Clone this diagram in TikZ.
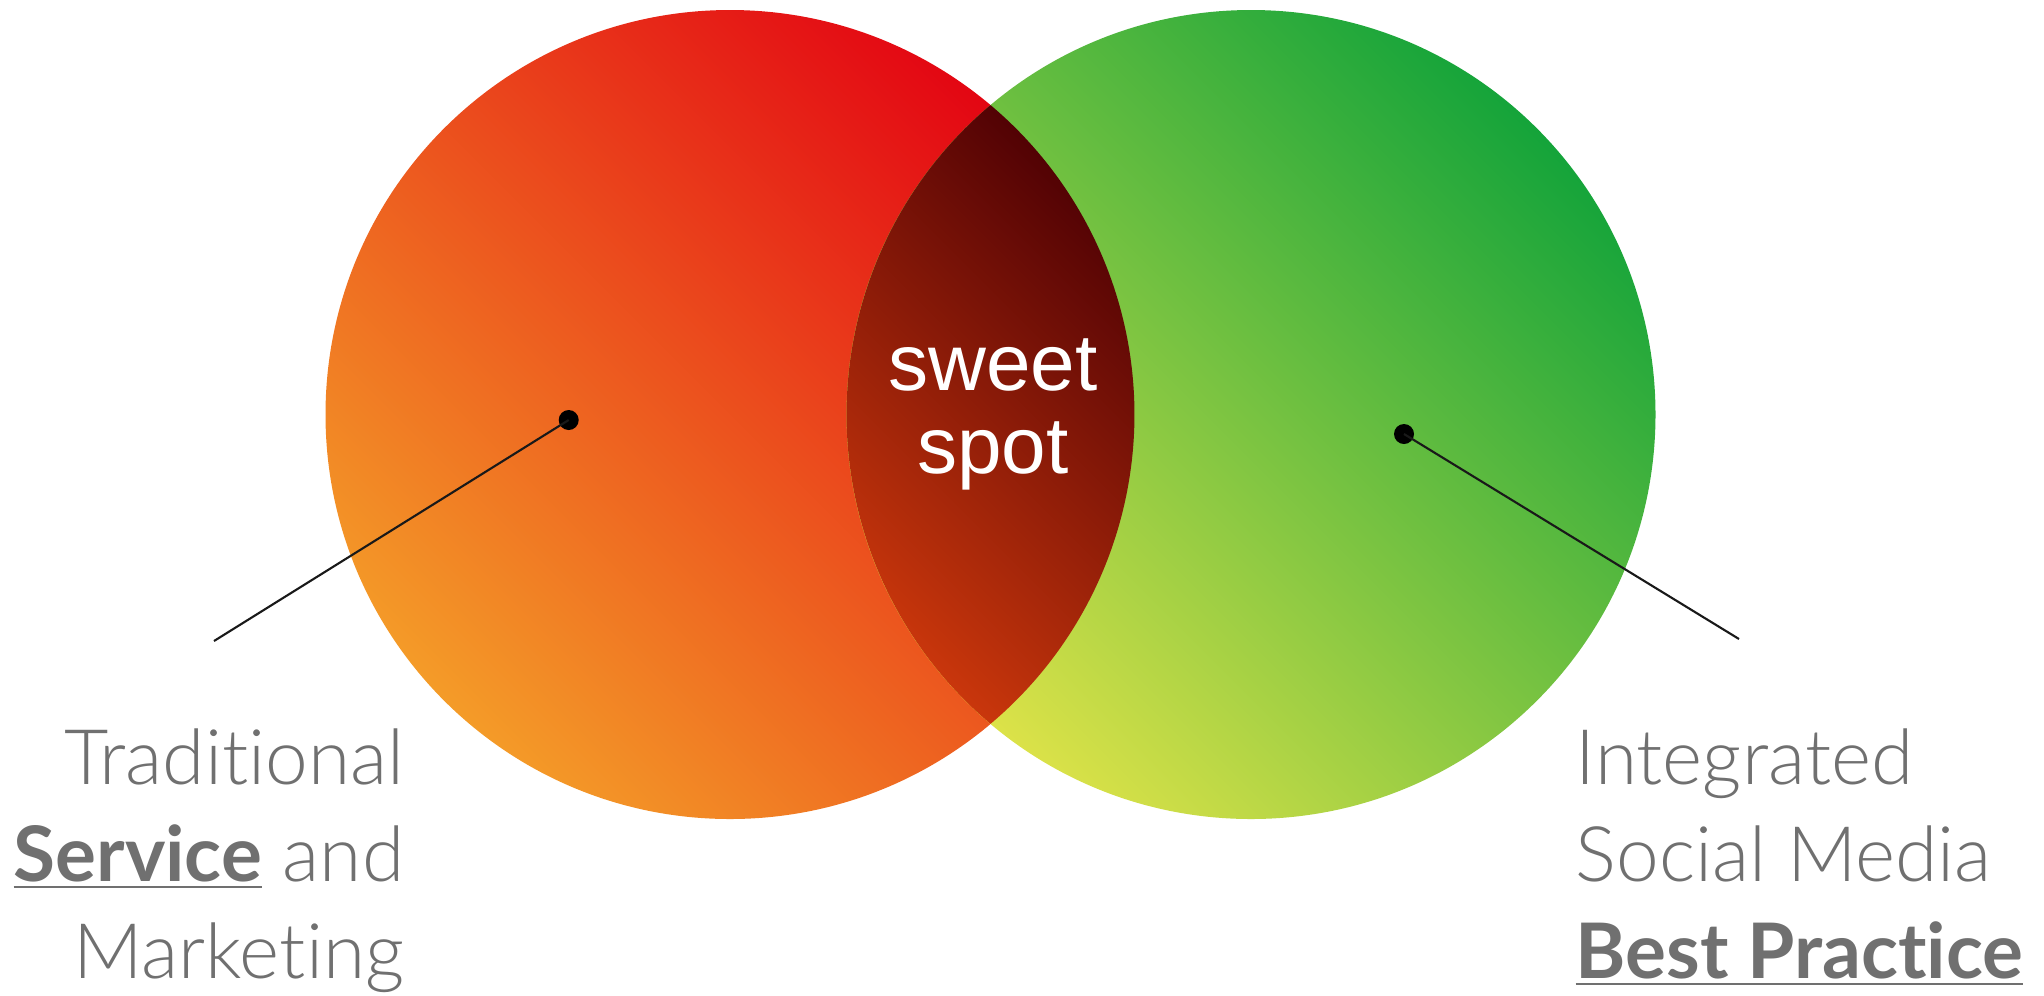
\documentclass[tikz,border=0pt]{standalone}
\usepackage{fontspec}
\setmainfont{Fira Sans}
\newfontfamily\labelfont{Lato Light}[BoldFont={Lato Bold}, Ligatures=NoCommon]
\newfontfamily\sweetfont{Liberation Sans}
\usepackage{xcolor}
\usepackage{tikz}
\usetikzlibrary{positioning}
\definecolor{myred}{RGB}{227,6,19}
\definecolor{myorange}{RGB}{244,155,40}
\definecolor{mygreen}{RGB}{21,164,58}
\definecolor{mylime}{RGB}{220,226,72}
\definecolor{mymaroon}{RGB}{78,0,4}
\definecolor{myrust}{RGB}{205,56,12}
\definecolor{mygrey}{RGB}{112,112,112}
\tikzset{
  redset/.style={top color=myred, bottom color=myorange, shading angle=-45},
  greenset/.style={top color=mygreen, bottom color=mylime, shading angle=-45},
  lensset/.style={top color=mymaroon, bottom color=myrust, shading angle=-45},
  sweettext/.style={text=white, align=center, inner sep=0pt,
    font=\sweetfont\fontsize{22.8}{23.6}\selectfont},
  labeltext/.style={text=mygrey, inner sep=0pt,
    font=\labelfont\fontsize{21.8}{27.6}\selectfont},
  dot/.style={circle, fill=black, inner sep=0pt, minimum size=0.2cm},
  pointer/.style={draw=black!90, line width=0.6pt}
}

\begin{document}
\begin{tikzpicture}
  \useasboundingbox (0,0) rectangle (20.44,-9.95);

  % Sets
  \shade[redset] (7.30,-4.145) circle (4.045);
  \shade[greenset] (12.51,-4.145) circle (4.045);

  % Overlap
  \shade[lensset] (9.905,-1.0505) arc (49.9:-49.9:4.045) arc (229.9:130.1:4.045) -- cycle;
  \node[sweettext, anchor=north] (sweet) at (9.93,-3.38) {sweet\\spot};

  % Pointers
  \node[dot] (ldot) at (5.687,-4.20) {};
  \coordinate (lend) at (2.14,-6.41);
  \node[dot] (rdot) at (14.04,-4.34) {};
  \coordinate (rend) at (17.39,-6.39);
  \draw[pointer] (ldot.center) -- (lend);
  \draw[pointer] (rdot.center) -- (rend);

  % Labels
  \node[labeltext, align=right, anchor=north east] (trad) at (4.05,-7.28)
    {Traditional\\\underline{\textbf{Service}} and\\Marketing};
  \node[labeltext, align=left, anchor=north west] (social) at (15.75,-7.28)
    {Integrated\\Social Media\\\underline{\textbf{Best Practice}}};
\end{tikzpicture}
\end{document}
